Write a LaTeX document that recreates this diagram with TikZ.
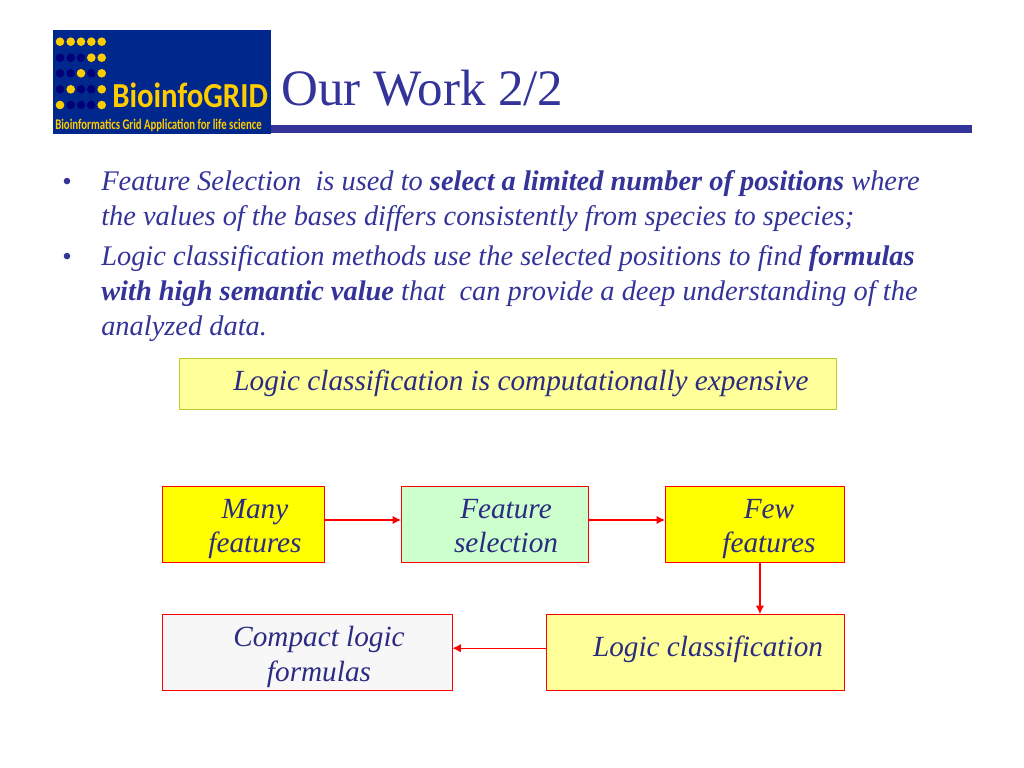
\documentclass[tikz,border=0pt]{standalone}
\usepackage{fontspec}
\setmainfont{Liberation Serif}
\newfontfamily\logofont{Carlito}
\usetikzlibrary{positioning,arrows.meta}
\definecolor{slideblue}{RGB}{51,51,153}
\definecolor{logoblue}{RGB}{0,40,140}
\definecolor{logodark}{RGB}{0,0,120}
\definecolor{logoyellow}{RGB}{255,204,0}
\definecolor{brightyellow}{RGB}{255,255,0}
\definecolor{paleyellow}{RGB}{255,255,153}
\definecolor{palegreen}{RGB}{204,255,204}
\definecolor{palegray}{RGB}{247,247,247}
\definecolor{costline}{RGB}{187,204,51}
\definecolor{flowred}{RGB}{255,0,0}
\tikzset{
  flowbox/.style={draw=flowred,line width=0.6pt,inner sep=0pt},
  flowtext/.style={text=slideblue!85!black,align=center,font=\fontsize{20.8}{24.5}\selectfont\itshape,inner sep=0pt,text depth=0pt},
  bodyline/.style={text=slideblue,anchor=base west,inner sep=0pt,font=\fontsize{20.2}{24}\selectfont\itshape},
  flowarrow/.style={draw=flowred,line width=0.9pt,-{Latex[length=6pt,width=6pt]}}
}
\begin{document}
\begin{tikzpicture}[x=0.025cm,y=-0.025cm]
\useasboundingbox (0,0) rectangle (1024,768);
% logo
\fill[logoblue] (53,30) rectangle (271,134);
\foreach \row/\cols in {41.7/{60,70.7,81,91.3,101.7},57.7/{91.3,101.7},73.3/{81,101.7},89.3/{70.7,101.7},105/{60,101.7}}
  \foreach \col in \cols
    \fill[logoyellow] (\col,\row) circle (4.3);
\foreach \row/\cols in {57.7/{60,70.7,81},73.3/{60,70.7,91.3},89.3/{60,81,91.3},105/{70.7,81,91.3}}
  \foreach \col in \cols
    \fill[logodark] (\col,\row) circle (4.3);
\node[anchor=base west,inner sep=0pt,text=logoyellow,font=\logofont\bfseries\fontsize{25}{25}\selectfont] (logoname) at (112,108) {\scalebox{0.875}[1]{BioinfoGRID}};
\node[anchor=base west,inner sep=0pt,text=logoyellow,font=\logofont\bfseries\fontsize{10.5}{10.5}\selectfont] (logosub) at (55,130) {\scalebox{0.73}[1]{Bioinformatics Grid Application for life science}};
% title
\node[anchor=base west,inner sep=0pt,text=slideblue,font=\fontsize{36.3}{40}\selectfont] (title) at (281,106) {Our Work 2/2};
\fill[slideblue] (271,125) rectangle (972,133);
% bullets
\node[bodyline,font=\fontsize{19.2}{23}\selectfont] (bulleta) at (62,190.5) {•};
\node[bodyline] (linea) at (101,190.5) {Feature Selection\ \ is used to \textbf{select a limited number of positions} where};
\node[bodyline] (lineb) at (101,225.5) {the values of the bases differs consistently from species to species;};
\node[bodyline,font=\fontsize{19.2}{23}\selectfont] (bulletb) at (62,265.5) {•};
\node[bodyline] (linec) at (101,265.5) {Logic classification methods use the selected positions to find \textbf{formulas}};
\node[bodyline] (lined) at (101,300.5) {\textbf{with high semantic value} that\ \ can provide a deep understanding of the};
\node[bodyline] (linee) at (101,335.5) {analyzed data.};
% boxes
\node[draw=costline,fill=paleyellow,line width=0.6pt,minimum width=16.42cm,minimum height=1.28cm,inner sep=0pt] (cost) at (508,384) {};
\node[flowtext] (costtext) at (521,380) {Logic classification is computationally expensive};
\node[flowbox,fill=brightyellow,minimum width=4.05cm,minimum height=1.91cm] (many) at (243.5,524.5) {};
\node[flowtext] (manytext) at (255,526) {Many\\features};
\node[flowbox,fill=palegreen,minimum width=4.68cm,minimum height=1.91cm] (feature) at (495,524.5) {};
\node[flowtext] (featuretext) at (506,526) {Feature\\selection};
\node[flowbox,fill=brightyellow,minimum width=4.48cm,minimum height=1.91cm] (few) at (755,524.5) {};
\node[flowtext] (fewtext) at (769,526) {Few\\features};
\node[flowbox,fill=paleyellow,minimum width=7.45cm,minimum height=1.91cm] (logic) at (695.5,652.7) {};
\node[flowtext] (logictext) at (708,646) {Logic classification};
\node[flowbox,fill=palegray,minimum width=7.25cm,minimum height=1.91cm] (compact) at (307,652.7) {};
\node[flowtext] (compacttext) at (319,654) {Compact logic\\formulas};
% arrows
\draw[flowarrow] ([yshift=3.2pt]many.east) -- ([yshift=3.2pt]feature.west);
\draw[flowarrow] ([yshift=3.2pt]feature.east) -- ([yshift=3.2pt]few.west);
\draw[flowarrow] ([xshift=3.5pt]few.south) -- ([xshift=3.5pt]few.south |- logic.north);
\draw[flowarrow] ([yshift=3.2pt]logic.west) -- ([yshift=3.2pt]compact.east);
\end{tikzpicture}
\end{document}
